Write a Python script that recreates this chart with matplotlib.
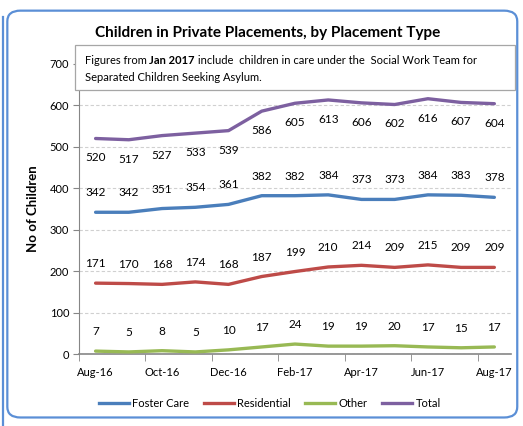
import matplotlib

matplotlib.use("Agg")
import matplotlib.pyplot as plt
import numpy as np
from matplotlib.patches import FancyBboxPatch, Rectangle
from matplotlib.lines import Line2D

plt.rcParams["font.family"] = ["Lato", "DejaVu Sans"]

MONTHS = ["Aug-16", "Sep-16", "Oct-16", "Nov-16", "Dec-16", "Jan-17", "Feb-17",
          "Mar-17", "Apr-17", "May-17", "Jun-17", "Jul-17", "Aug-17"]
FOSTER = [342, 342, 351, 354, 361, 382, 382, 384, 373, 373, 384, 383, 378]
RESIDENTIAL = [171, 170, 168, 174, 168, 187, 199, 210, 214, 209, 215, 209, 209]
OTHER = [7, 5, 8, 5, 10, 17, 24, 19, 19, 20, 17, 15, 17]
TOTAL = [520, 517, 527, 533, 539, 586, 605, 613, 606, 602, 616, 607, 604]

BLUE = "#4A7EBB"
RED = "#BE4B48"
GREEN = "#98B954"
PURPLE = "#7D60A0"
FRAME = "#5B8FD6"

fig = plt.figure(figsize=(5.23, 4.26), dpi=100)
ax = fig.add_axes([0.151, 0.169, 0.826, 0.681])

x = np.arange(len(MONTHS))
series = [("Foster Care", FOSTER, BLUE, 14),
          ("Residential", RESIDENTIAL, RED, 14),
          ("Other", OTHER, GREEN, 14),
          ("Total", TOTAL, PURPLE, -14)]
for name, vals, col, off in series:
    ax.plot(x, vals, color=col, linewidth=2.4, solid_capstyle="round", label=name, zorder=3)
    for xi, v in zip(x, vals):
        ax.annotate(str(v), (xi, v), xytext=(0, off), textcoords="offset points",
                    ha="center", va="center", fontsize=8.5, color="black")

ax.set_xlim(-0.5, 12.5)
ax.set_ylim(0, 700)
ax.set_yticks(range(0, 701, 100))
ax.yaxis.grid(True, linestyle=(0, (3, 2)), color="#d0d0d0", linewidth=0.8)
ax.set_axisbelow(True)

ax.set_xticks(x[::2])
ax.set_xticklabels(MONTHS[::2])
ax.set_xticks(np.arange(-0.5, 12, 2), minor=True)
ax.tick_params(axis="x", which="major", length=0, pad=9, labelsize=8)
ax.tick_params(axis="x", which="minor", length=5, color="#868686")
ax.tick_params(axis="y", length=4, color="#868686", labelsize=8, pad=3)

for s in ("top", "right"):
    ax.spines[s].set_visible(False)
ax.spines["left"].set_color("#868686")
ax.spines["bottom"].set_color("#868686")
ax.spines["bottom"].set_linewidth(1.2)

ax.set_ylabel("No of Children", fontsize=9.5, fontweight="bold", labelpad=8)

fig.text(0.511, 0.922, "Children in Private Placements, by Placement Type",
         ha="center", va="center", fontsize=11, fontweight="bold")

# note box over the top of the plot, text pieces chained left to right
fig.patches.append(Rectangle((0.143, 0.789), 0.842, 0.105, transform=fig.transFigure,
                             facecolor="white", edgecolor="#a6a6a6", linewidth=0.9, zorder=5))
pieces = [("Figures from ", "normal"), ("Jan 2017", "bold"),
          (" include  children in care under the  Social Work Team for", "normal")]
xpos = 0.162
renderer = fig.canvas.get_renderer()
for txt, wt in pieces:
    t = fig.text(xpos, 0.857, txt, fontsize=8, fontweight=wt, va="center", ha="left", zorder=6)
    bb = t.get_window_extent(renderer=renderer)
    xpos = fig.transFigure.inverted().transform((bb.x1, 0))[0]
fig.text(0.162, 0.817, "Separated Children Seeking Asylum.", fontsize=8, va="center",
         ha="left", zorder=6)

handles = [Line2D([], [], color=c, linewidth=2.4) for _, _, c, _ in series]
fig.legend(handles, [n for n, *_ in series], loc="center", bbox_to_anchor=(0.516, 0.052),
           ncol=4, frameon=False, fontsize=8, handlelength=2.7, columnspacing=1.3,
           handletextpad=0.3)

# outer blue frame
fig.patches.append(FancyBboxPatch((0.014, 0.02), 0.975, 0.955, transform=fig.transFigure,
                                  boxstyle="round,pad=0,rounding_size=0.025",
                                  facecolor="none", edgecolor=FRAME, linewidth=1.6, zorder=7))
fig.add_artist(Line2D([0.005, 0.005], [0.0, 0.96], transform=fig.transFigure,
                      color=FRAME, linewidth=1.6))

fig.savefig("out.png", dpi=100)
